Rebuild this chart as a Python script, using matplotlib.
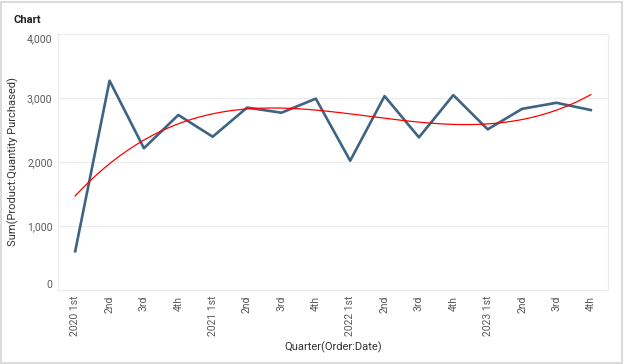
import numpy as np
import matplotlib
matplotlib.use('Agg')
import matplotlib.pyplot as plt
from matplotlib.patches import Rectangle

plt.rcParams['font.family'] = ['Roboto', 'DejaVu Sans']

quarters = ['2020 1st', '2nd', '3rd', '4th',
            '2021 1st', '2nd', '3rd', '4th',
            '2022 1st', '2nd', '3rd', '4th',
            '2023 1st', '2nd', '3rd', '4th']
quantity = [605, 3270, 2215, 2735, 2395, 2850, 2770, 2990,
            2020, 3030, 2385, 3045, 2510, 2830, 2925, 2812]

x = np.arange(len(quantity))
# tendencia: polinomio de grado 3
coef = np.polyfit(x, quantity, 3)
xs = np.linspace(0, len(quantity) - 1, 200)
trend = np.polyval(coef, xs)

fig = plt.figure(figsize=(6.24, 3.64), dpi=100)
fig.patches.append(Rectangle((1 / 624, 1 / 364), 621 / 624, 361 / 364,
                             transform=fig.transFigure, fill=False,
                             edgecolor='#d4d4d4', linewidth=1.2))
ax = fig.add_axes([58 / 624, 74 / 364, 550 / 624, 256 / 364])

ax.plot(x, quantity, color='#3e6483', linewidth=1.9, zorder=3)
ax.plot(xs, trend, color='#ff0000', linewidth=0.9, zorder=4)

ax.set_xlim(-0.5, len(quantity) - 0.5)
ax.set_ylim(0, 4000)
ax.set_yticks([0, 1000, 2000, 3000, 4000])
ax.set_yticklabels(['0', '1,000', '2,000', '3,000', '4,000'])
ylabs = ax.get_yticklabels()
ylabs[0].set_va('bottom')
ylabs[-1].set_va('top')
ax.set_xticks(x)
ax.set_xticklabels(quarters, rotation=90, va='top', ha='center')
ax.grid(axis='y', color='#ececec', linewidth=0.8)
ax.set_axisbelow(True)
for s in ax.spines.values():
    s.set_color('#ececec')
    s.set_linewidth(0.8)
ax.tick_params(length=0, labelsize=7.5, colors='#5a5a5a', pad=4)

ax.set_ylabel('Sum(Product:Quantity Purchased)', fontsize=8, color='#333333', labelpad=6)
ax.set_xlabel('Quarter(Order:Date)', fontsize=8, color='#333333', labelpad=4)
fig.text(14 / 624, 1 - 20 / 364, 'Chart', fontsize=8, fontweight='bold',
         color='#222222', va='center', ha='left')

plt.savefig('out.png')
